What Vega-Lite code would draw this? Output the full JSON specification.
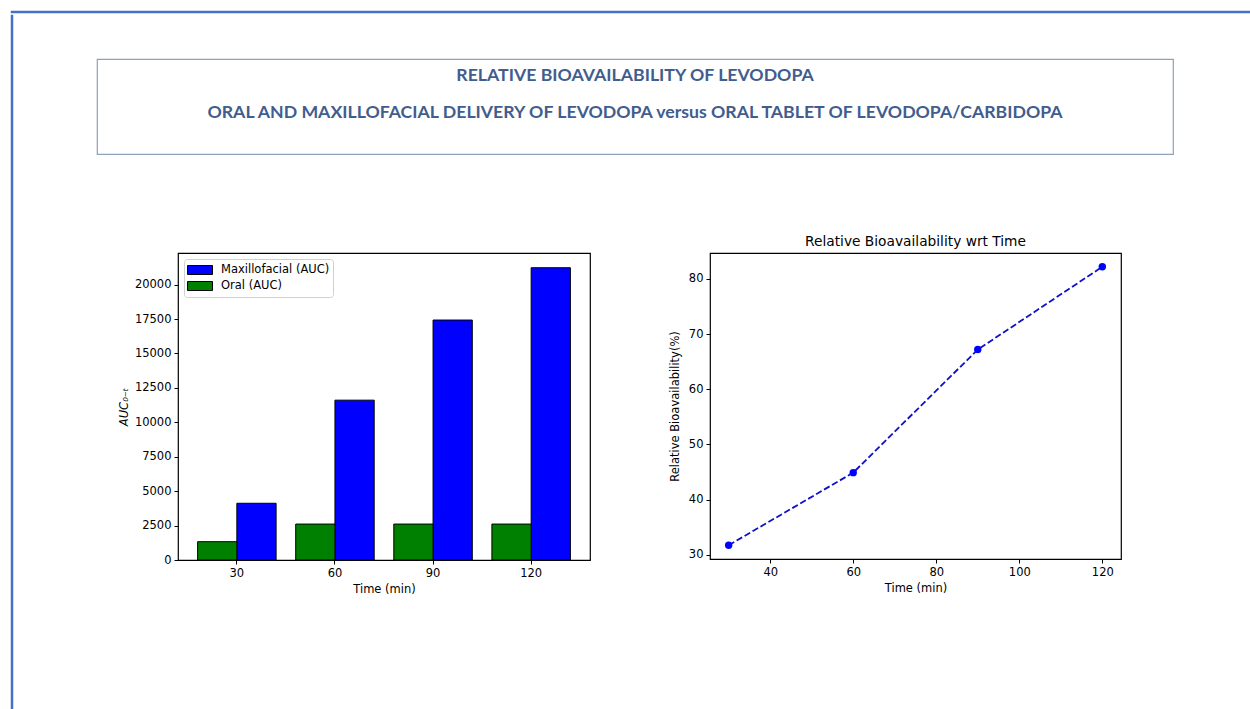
{
  "$schema": "https://vega.github.io/schema/vega-lite/v6.json",
  "background": "white",
  "padding": {"left": 10, "top": 10, "right": 0, "bottom": 0},
  "config": {
    "font": "DejaVu Sans",
    "axis": {
      "labelFont": "DejaVu Sans", "titleFont": "DejaVu Sans",
      "labelFontSize": 11.5, "titleFontSize": 11.5,
      "labelColor": "black", "titleColor": "black", "titleFontWeight": "normal",
      "tickColor": "black", "tickSize": 4, "tickWidth": 1,
      "domain": false, "grid": false, "labelPadding": 3
    },
    "title": {"font": "DejaVu Sans", "fontWeight": "normal", "color": "black"}
  },
  "spacing": 0,
  "resolve": {"scale": {"color": "independent"}, "legend": {"color": "independent"}},
  "vconcat": [
    {
      "width": 1240, "height": 0.001,
      "view": {"stroke": "#4472C4", "strokeWidth": 2.5, "fill": null},
      "data": {"values": []},
      "mark": "rect",
      "encoding": {}
    },
    {
      "spacing": 82,
      "resolve": {"scale": {"color": "independent"}, "legend": {"color": "independent"}},
      "hconcat": [
        {
          "width": 0.001, "height": 700,
          "view": {"stroke": "#4472C4", "strokeWidth": 2.5, "fill": null},
          "data": {"values": []},
          "mark": "rect",
          "encoding": {}
        },
        {
          "spacing": 0,
          "resolve": {"scale": {"color": "independent"}, "legend": {"color": "independent"}},
          "vconcat": [
            {
              "width": 0.001, "height": 42,
              "view": {"stroke": null, "fill": null},
              "data": {"values": []},
              "mark": "rect",
              "encoding": {}
            },
            {
              "width": 1076, "height": 95,
              "view": {"stroke": "#8FA0BA", "strokeWidth": 1.2, "fill": "white"},
              "data": {"values": [
                {"row": 1, "line": "RELATIVE BIOAVAILABILITY OF LEVODOPA"},
                {"row": 2, "line": "ORAL AND MAXILLOFACIAL DELIVERY OF LEVODOPA versus ORAL TABLET OF LEVODOPA/CARBIDOPA"}
              ]},
              "mark": {"type": "text", "font": "Lato", "fontWeight": "bold", "fontSize": 17.7, "color": "#415D8E", "baseline": "middle", "align": "center", "dy": -12},
              "encoding": {
                "x": {"datum": 1, "type": "quantitative", "scale": {"domain": [0, 2]}, "axis": null},
                "y": {"field": "row", "type": "ordinal", "scale": {"type": "point", "padding": 0.794}, "axis": null},
                "text": {"field": "line"}
              }
            },
            {
              "width": 0.001, "height": 79,
              "view": {"stroke": null, "fill": null},
              "data": {"values": []},
              "mark": "rect",
              "encoding": {}
            },
            {
              "spacing": 19,
              "resolve": {"scale": {"color": "independent"}, "legend": {"color": "independent"}},
              "hconcat": [
                {
                  "width": 0.001, "height": 0.001,
                  "view": {"stroke": null, "fill": null},
                  "data": {"values": []},
                  "mark": "rect",
                  "encoding": {}
                },
                {
                  "spacing": 77,
                  "resolve": {"scale": {"color": "independent"}, "legend": {"color": "independent"}},
                  "hconcat": [
                    {
                      "width": 412, "height": 307,
                      "view": {"stroke": "black", "strokeWidth": 1.2},
                      "data": {"values": [
                        {"time": 30, "series": "Maxillofacial (AUC)", "auc": 4120},
                        {"time": 60, "series": "Maxillofacial (AUC)", "auc": 11610},
                        {"time": 90, "series": "Maxillofacial (AUC)", "auc": 17430},
                        {"time": 120, "series": "Maxillofacial (AUC)", "auc": 21230},
                        {"time": 30, "series": "Oral (AUC)", "auc": 1330},
                        {"time": 60, "series": "Oral (AUC)", "auc": 2610},
                        {"time": 90, "series": "Oral (AUC)", "auc": 2610},
                        {"time": 120, "series": "Oral (AUC)", "auc": 2610}
                      ]},
                      "mark": {"type": "bar", "stroke": "black", "strokeWidth": 1},
                      "encoding": {
                        "x": {"field": "time", "type": "ordinal",
                          "scale": {"paddingInner": 0.2, "paddingOuter": 0.2},
                          "axis": {"title": "Time (min)", "labelAngle": 0, "titlePadding": 5}},
                        "xOffset": {"field": "series", "type": "nominal",
                          "scale": {"domain": ["Oral (AUC)", "Maxillofacial (AUC)"], "paddingInner": 0, "paddingOuter": 0}},
                        "y": {"field": "auc", "type": "quantitative",
                          "scale": {"domain": [0, 22300], "nice": false},
                          "axis": {"title": "AUC₀₋ₜ", "titleFontStyle": "italic", "titlePadding": 5,
                            "values": [0, 2500, 5000, 7500, 10000, 12500, 15000, 17500, 20000], "format": "d"}},
                        "color": {"field": "series", "type": "nominal",
                          "scale": {"domain": ["Maxillofacial (AUC)", "Oral (AUC)"], "range": ["#0000ff", "#008000"]},
                          "legend": {"title": null, "orient": "top-left", "offset": 6,
                            "labelFont": "DejaVu Sans", "labelFontSize": 11.5, "labelColor": "black",
                            "symbolType": "M-1,-0.36H1V0.36H-1Z", "symbolSize": 625,
                            "symbolStrokeColor": "black", "symbolStrokeWidth": 1, "symbolOpacity": 1,
                            "labelOffset": 8, "rowPadding": 0, "clipHeight": 16, "padding": 3,
                            "strokeColor": "#d0d0d0", "fillColor": "white", "cornerRadius": 3}}
                      }
                    },
                    {
                      "width": 411, "height": 306,
                      "view": {"stroke": "black", "strokeWidth": 1.2},
                      "title": {"text": "Relative Bioavailability wrt Time", "fontSize": 13.75, "offset": 4},
                      "data": {"values": [
                        {"time": 30, "rb": 31.75},
                        {"time": 60, "rb": 44.9},
                        {"time": 90, "rb": 67.2},
                        {"time": 120, "rb": 82.2}
                      ]},
                      "encoding": {
                        "x": {"field": "time", "type": "quantitative",
                          "scale": {"domain": [25.5, 124.5], "nice": false, "zero": false},
                          "axis": {"title": "Time (min)", "values": [40, 60, 80, 100, 120], "titlePadding": 5}},
                        "y": {"field": "rb", "type": "quantitative",
                          "scale": {"domain": [29.25, 84.7], "nice": false, "zero": false},
                          "axis": {"title": "Relative Bioavailability(%)", "values": [30, 40, 50, 60, 70, 80], "titlePadding": 8}}
                      },
                      "layer": [
                        {"mark": {"type": "line", "color": "#1010c8", "strokeWidth": 1.8, "strokeDash": [6.4, 2.8]}},
                        {"mark": {"type": "point", "filled": true, "color": "#0000ff", "size": 55, "opacity": 1}}
                      ]
                    }
                  ]
                }
              ]
            }
          ]
        }
      ]
    }
  ]
}
